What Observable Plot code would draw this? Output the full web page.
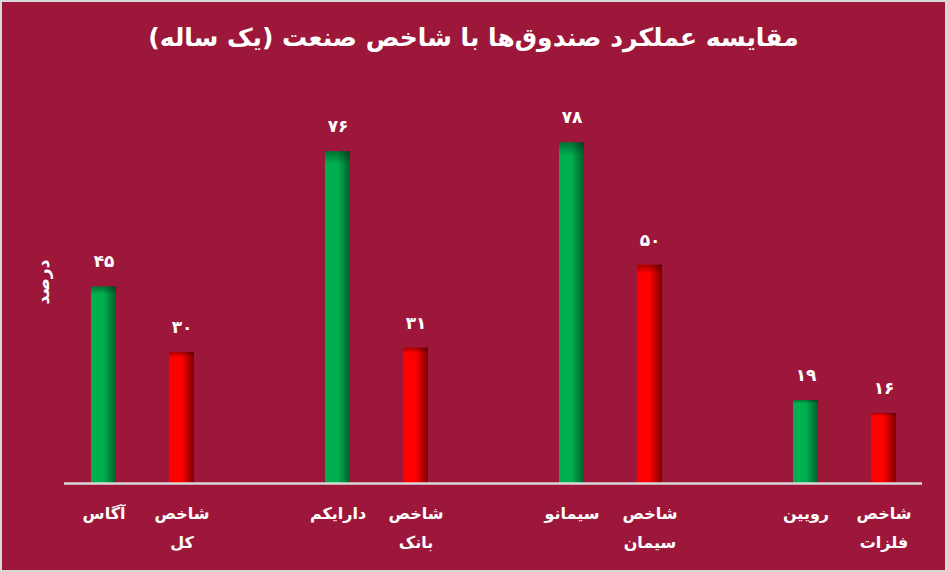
<!DOCTYPE html>
<html>
<head>
<meta charset="utf-8">
<script src="https://cdn.jsdelivr.net/npm/d3@7"></script>
<script src="https://cdn.jsdelivr.net/npm/@observablehq/plot@0.6"></script>
<style>
  html, body { margin: 0; padding: 0; background: #d9d9d9; }
  #frame { width: 947px; height: 572px; box-sizing: border-box; border: 2px solid #d9d9d9; background: #9d173b; overflow: hidden; }
  #title { height: 70px; line-height: 72px; text-align: center; color: #fff; font-family: "DejaVu Sans", sans-serif; font-weight: bold; font-size: 25px; direction: rtl; }
  svg { display: block; }
</style>
</head>
<body>
<div id="frame">
  <div id="title">مقایسه عملکرد صندوق‌ها با شاخص صنعت (یک ساله)</div>
  <div id="chart"></div>
</div>
<script>
const funds = ["آگاس", "دارایکم", "سیمانو", "رویین"];
const fundValues = [45, 76, 78, 19];
const indices = ["شاخص\nکل", "شاخص\nبانک", "شاخص\nسیمان", "شاخص\nفلزات"];
const indexValues = [30, 31, 50, 16];
const yLabel = "درصد";

const toFa = (n) => String(n).replace(/\d/g, d => "۰۱۲۳۴۵۶۷۸۹"[+d]);

const rows = [];
const domain = [];
funds.forEach((f, i) => {
  rows.push({name: f, value: fundValues[i], kind: "fund"});
  rows.push({name: indices[i], value: indexValues[i], kind: "index"});
  domain.push(f, indices[i]);
  if (i < funds.length - 1) domain.push("gap" + i);
});

const font = "DejaVu Sans, sans-serif";

const svg = Plot.plot({
  width: 943,
  height: 498,
  marginLeft: 62,
  marginRight: 23,
  marginTop: 18,
  marginBottom: 87,
  style: {background: "transparent", fontFamily: font, color: "#fff"},
  x: {type: "band", domain, paddingInner: 0.68, paddingOuter: 0.34, axis: null},
  y: {domain: [0, 90], axis: null},
  marks: [
    Plot.barY(rows, {x: "name", y: "value", fill: d => d.kind === "fund" ? "url(#gGreen)" : "url(#gRed)"}),
    Plot.barY(rows, {x: "name", y: "value", fill: "url(#gTop)"}),
    Plot.ruleY([0], {stroke: "#d9d9d9", strokeWidth: 2.5}),
    Plot.text(rows, {x: "name", y: "value", text: d => toFa(d.value), dy: -25, fill: "#fff", fontSize: 17, fontWeight: "bold"}),
    Plot.text(rows, {x: "name", y: () => 0, text: "name", lineAnchor: "top", dy: 15, fill: "#fff", fontSize: 16, fontWeight: "bold", lineHeight: 1.8})
  ]
});

const defs = d3.select(svg).insert("defs", ":first-child");
function grad(id, c1, c2) {
  const g = defs.append("linearGradient").attr("id", id).attr("x1", "0").attr("x2", "1").attr("y1", "0").attr("y2", "0");
  g.append("stop").attr("offset", "0%").attr("stop-color", c1);
  g.append("stop").attr("offset", "50%").attr("stop-color", c1);
  g.append("stop").attr("offset", "100%").attr("stop-color", c2);
}
grad("gGreen", "#00b050", "#005f2b");
grad("gRed", "#ff0000", "#7f0000");
// subtle dark shading near the top of each bar
const gt = defs.append("linearGradient").attr("id", "gTop")
  .attr("gradientUnits", "userSpaceOnUse").attr("x1", 0).attr("x2", 0);
gt.attr("y1", 0).attr("y2", 1);
defs.select("#gTop").remove();
// Per-bar top shading: use objectBoundingBox with small stop range
const gt2 = defs.append("linearGradient").attr("id", "gTop").attr("x1", "0").attr("x2", "0").attr("y1", "0").attr("y2", "1");
gt2.append("stop").attr("offset", "0%").attr("stop-color", "#000").attr("stop-opacity", 0.35);
gt2.append("stop").attr("offset", "4%").attr("stop-color", "#000").attr("stop-opacity", 0);
gt2.append("stop").attr("offset", "100%").attr("stop-color", "#000").attr("stop-opacity", 0);

// y-axis title
d3.select(svg).append("text")
  .attr("transform", "translate(42,210) rotate(-90)")
  .attr("text-anchor", "middle")
  .attr("dominant-baseline", "middle")
  .attr("fill", "#fff")
  .attr("font-family", font)
  .attr("font-weight", "bold")
  .attr("font-size", 17)
  .text(yLabel);

document.getElementById("chart").appendChild(svg);
</script>
</body>
</html>
